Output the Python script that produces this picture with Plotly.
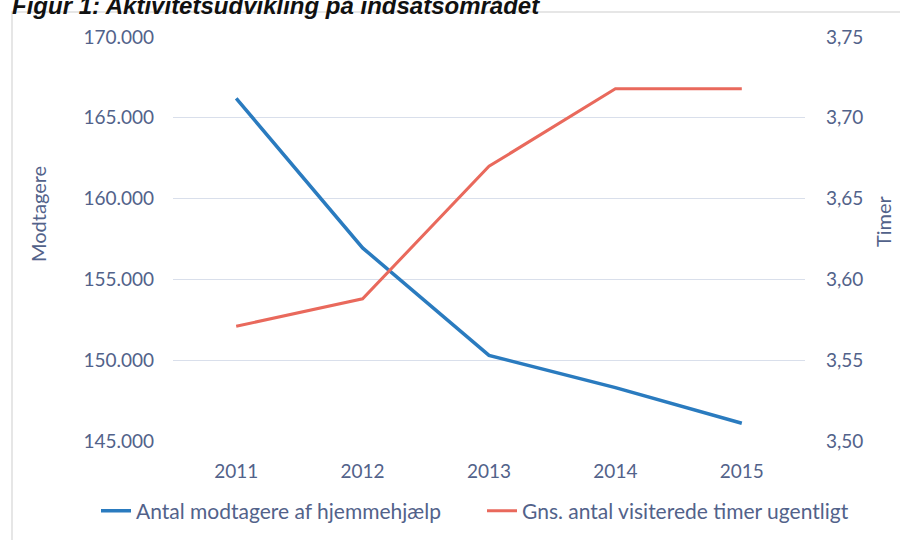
import plotly.graph_objects as go

years = ["2011", "2012", "2013", "2014", "2015"]
modtagere = [166200, 156950, 150300, 148300, 146100]
timer = [3.571, 3.588, 3.670, 3.718, 3.718]

name_blue = "Antal modtagere af hjemmehjælp"
name_red = "Gns. antal visiterede timer ugentligt"
title_text = "Figur 1: Aktivitetsudvikling på indsatsområdet"
ytitle_left = "Modtagere"
ytitle_right = "Timer"

txt_color = "#52628a"
font_family = "Lato, 'Open Sans', sans-serif"

fig = go.Figure()
fig.add_trace(go.Scatter(x=years, y=modtagere, name=name_blue, mode="lines",
                         line=dict(color="#2a7bbf", width=3.5), yaxis="y", legend="legend"))
fig.add_trace(go.Scatter(x=years, y=timer, name=name_red, mode="lines",
                         line=dict(color="#e9695c", width=3), yaxis="y2", legend="legend2"))

L, R, T, B = 173, 95, 37, 99
W, H = 900, 540
pw, ph = W - L - R, H - T - B

def px(x):
    return (x - L) / pw

def py(y):
    return (H - B - y) / ph

leg_common = dict(orientation="h", xref="container", xanchor="left",
                  yref="container", y=(H - 511) / H, yanchor="middle",
                  bgcolor="rgba(0,0,0,0)", borderwidth=0,
                  font=dict(size=21, color=txt_color))

fig.update_layout(
    width=W, height=H,
    margin=dict(l=L, r=R, t=T, b=B, autoexpand=False),
    paper_bgcolor="white", plot_bgcolor="white",
    separators=",.",
    font=dict(family=font_family, color=txt_color, size=19),
    xaxis=dict(type="category", range=[-0.5, 4.5], showgrid=False, zeroline=False, showline=False,
               ticks="", tickfont=dict(size=19, color=txt_color), ticklabelstandoff=17),
    yaxis=dict(range=[145000, 170000], dtick=5000, tickformat=",.0f",
               showgrid=True, gridcolor="#d9dfeb", gridwidth=1, zeroline=False, showline=False,
               tickfont=dict(size=19, color=txt_color), ticklabelstandoff=18),
    yaxis2=dict(range=[3.5, 3.75], dtick=0.05, tickformat=".2f", overlaying="y", side="right",
                showgrid=False, zeroline=False, showline=False,
                tickfont=dict(size=19, color=txt_color), ticklabelstandoff=20),
    legend=dict(x=96 / W, **leg_common),
    legend2=dict(x=482 / W, **leg_common),
    showlegend=True,
    annotations=[
        dict(text="<b><i>" + title_text + "</i></b>", xref="paper", yref="paper",
             x=px(10), y=py(6), xanchor="left", yanchor="middle", showarrow=False,
             font=dict(family="Liberation Sans, Arial, sans-serif", size=24, color="#111111")),
        dict(text=ytitle_left, xref="paper", yref="paper", x=px(38), y=py(214),
             xanchor="center", yanchor="middle", textangle=-90, showarrow=False,
             font=dict(size=20, color=txt_color)),
        dict(text=ytitle_right, xref="paper", yref="paper", x=px(883), y=py(221),
             xanchor="center", yanchor="middle", textangle=-90, showarrow=False,
             font=dict(size=20, color=txt_color)),
    ],
    shapes=[dict(type="rect", xref="paper", yref="paper",
                 x0=px(12), x1=px(960), y0=py(600), y1=py(12),
                 line=dict(color="#dedede", width=1.5), layer="below")],
)

fig.write_html("out.html", config={"displayModeBar": False},
               post_script="document.body.style.margin='0px';")
